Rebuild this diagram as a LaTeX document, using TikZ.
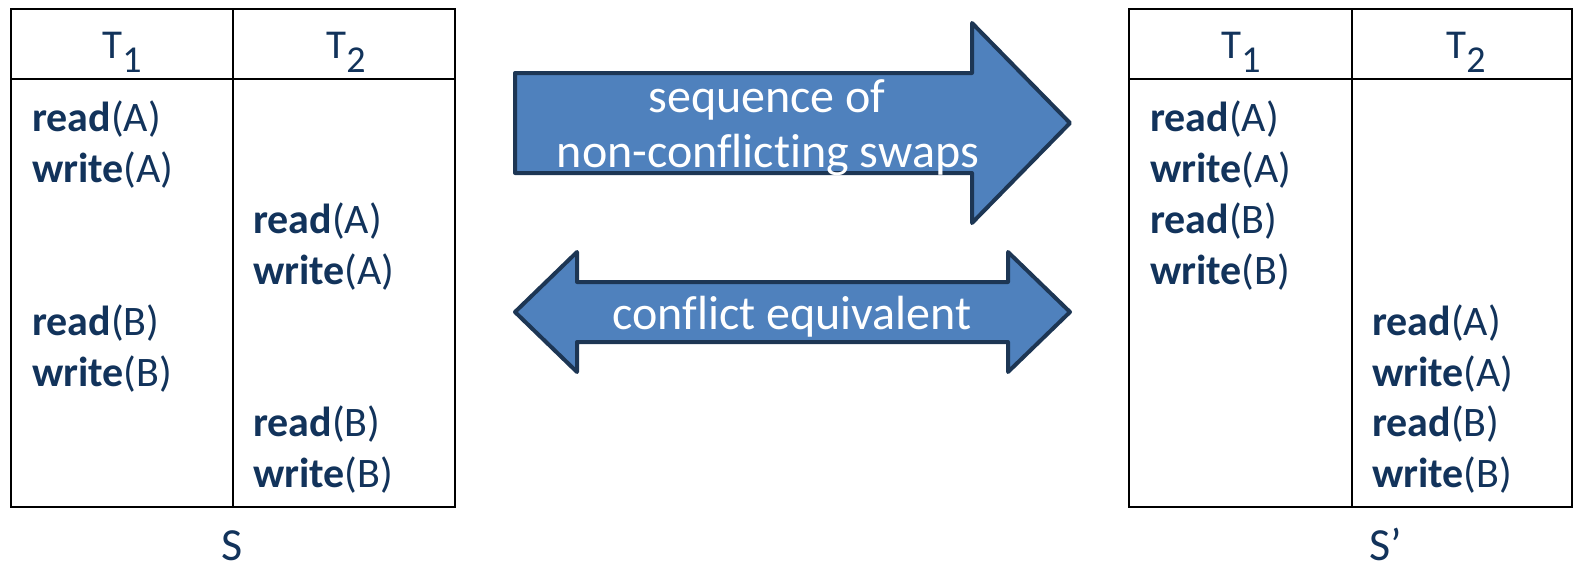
\documentclass[tikz,border=0pt]{standalone}
\usepackage{fontspec}
\setmainfont{Carlito}[Ligatures=NoCommon]
\definecolor{inkblue}{HTML}{12335B}
\definecolor{arrowfill}{HTML}{4F81BD}
\definecolor{arrowedge}{HTML}{1D3654}
\newcommand{\opcell}[2]{\textbf{#1}(#2)}
\newcommand{\tname}[1]{T\raisebox{-14pt}{\fontsize{38}{38}\selectfont #1}}
\begin{document}
\begin{tikzpicture}[x=1pt,y=-1pt,
  optext/.style={anchor=base west,inner sep=0pt,text=inkblue,font=\fontsize{42}{50}\selectfont},
  headtext/.style={anchor=base,inner sep=0pt,text=inkblue,font=\fontsize{41}{49}\selectfont},
  labeltext/.style={anchor=base,inner sep=0pt,text=inkblue,font=\fontsize{46}{54}\selectfont},
  grid/.style={draw=black,line width=2pt},
  blockarrow/.style={draw=arrowedge,fill=arrowfill,line width=4pt,line join=round},
  arrowtext/.style={anchor=base,inner sep=0pt,text=white,font=\fontsize{48}{55}\selectfont}]
\useasboundingbox (0,0) rectangle (1575,573);

% schedule S
\draw[grid] (11,9) rectangle (455,507);
\draw[grid] (11,79) -- (455,79);
\draw[grid] (233,9) -- (233,507);
\node[headtext] (sh1) at (122,58) {\tname{1}};
\node[headtext] (sh2) at (346,58) {\tname{2}};
\node[optext] (s1) at (32,131) {\opcell{read}{A}};
\node[optext] (s2) at (32,182) {\opcell{write}{A}};
\node[optext] (s3) at (253,233) {\opcell{read}{A}};
\node[optext] (s4) at (253,284) {\opcell{write}{A}};
\node[optext] (s5) at (32,335) {\opcell{read}{B}};
\node[optext] (s6) at (32,386) {\opcell{write}{B}};
\node[optext] (s7) at (253,436) {\opcell{read}{B}};
\node[optext] (s8) at (253,487) {\opcell{write}{B}};
\node[labeltext] (sname) at (232,560) {S};

% schedule S'
\draw[grid] (1129,9) rectangle (1572,507);
\draw[grid] (1129,79) -- (1572,79);
\draw[grid] (1352,9) -- (1352,507);
\node[headtext] (ph1) at (1241,58) {\tname{1}};
\node[headtext] (ph2) at (1466,58) {\tname{2}};
\node[optext] (p1) at (1150,131) {\opcell{read}{A}};
\node[optext] (p2) at (1150,182) {\opcell{write}{A}};
\node[optext] (p3) at (1150,233) {\opcell{read}{B}};
\node[optext] (p4) at (1150,284) {\opcell{write}{B}};
\node[optext] (p5) at (1372,335) {\opcell{read}{A}};
\node[optext] (p6) at (1372,386) {\opcell{write}{A}};
\node[optext] (p7) at (1372,436) {\opcell{read}{B}};
\node[optext] (p8) at (1372,487) {\opcell{write}{B}};
\node[labeltext] (pname) at (1386,560) {S’};

% block arrow: swaps
\draw[blockarrow] (515,73) -- (972,73) -- (972,23) -- (1070,123) -- (972,223)
  -- (972,173) -- (515,173) -- cycle;
\node[arrowtext] (swapa) at (767,112) {sequence of};
\node[arrowtext] (swapb) at (768,167) {non-conflicting swaps};

% double block arrow: equivalence
\draw[blockarrow] (515,312) -- (577,252) -- (577,282) -- (1008,282) -- (1008,252)
  -- (1070,312) -- (1008,372) -- (1008,342) -- (577,342) -- (577,372) -- cycle;
\node[arrowtext] (equiv) at (792,329) {conflict equivalent};
\end{tikzpicture}
\end{document}
